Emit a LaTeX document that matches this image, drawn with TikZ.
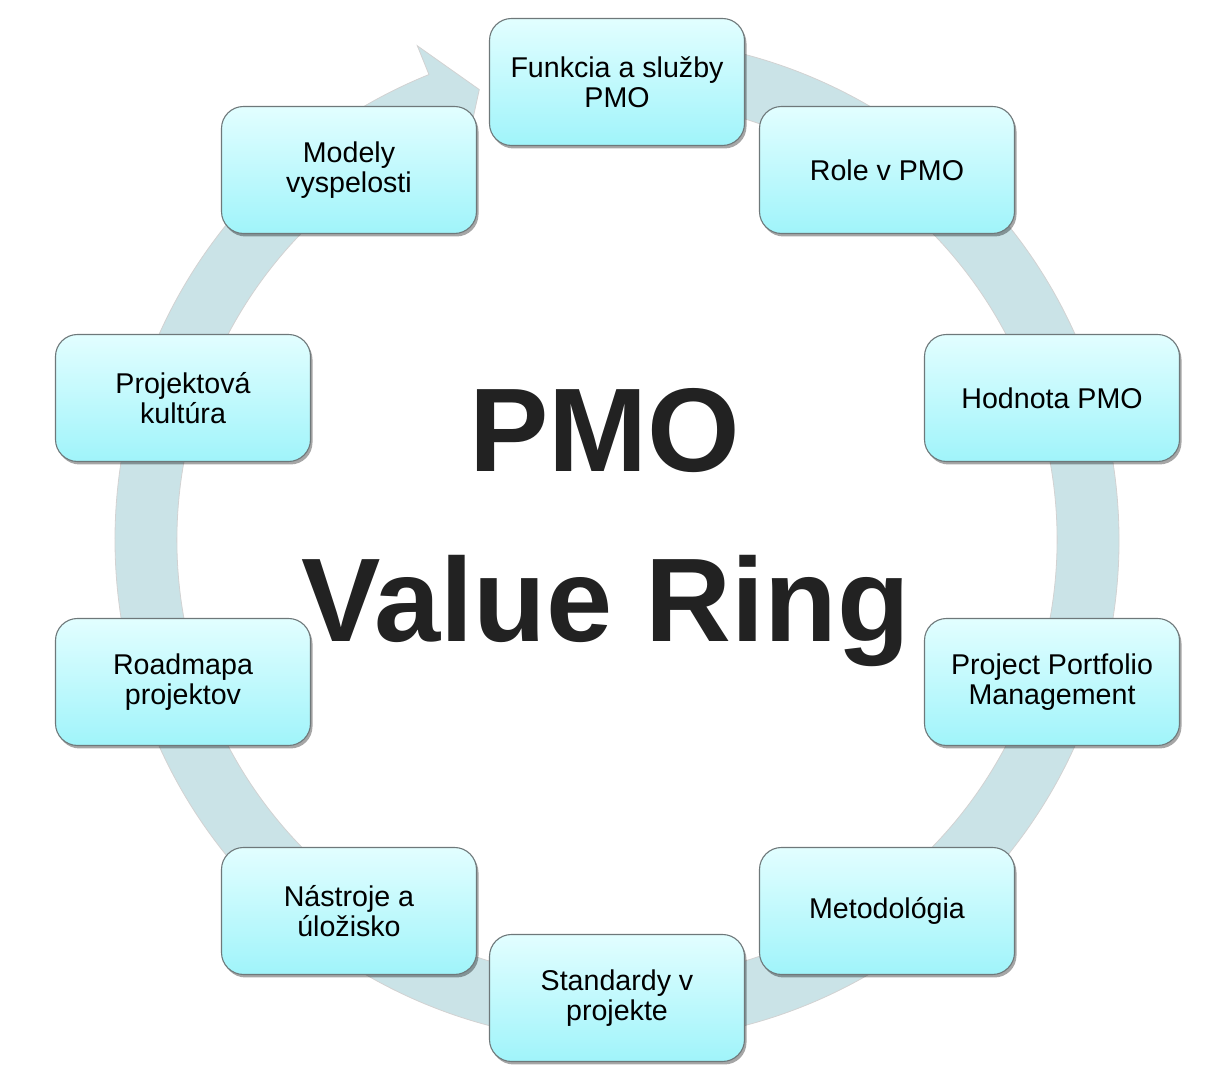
\documentclass[tikz,border=0pt]{standalone}
\usepackage{fontspec}
\setmainfont{Liberation Sans}
\usetikzlibrary{shadows,calc}
\definecolor{ringcol}{RGB}{202,227,231}
\definecolor{boxtop}{RGB}{226,254,255}
\definecolor{boxbot}{RGB}{160,244,250}
\definecolor{boxedge}{RGB}{110,120,122}
\definecolor{titlecol}{RGB}{34,34,34}
\tikzset{
  ringbox/.style={rounded corners=22pt, minimum width=255pt, minimum height=127pt,
    top color=boxtop, bottom color=boxbot, draw=boxedge, line width=1.1pt,
    drop shadow={shadow xshift=2pt, shadow yshift=-3pt, opacity=0.35, fill=black},
    align=center, font=\fontsize{28.6}{30}\selectfont, text=black, inner sep=4pt},
  titletext/.style={font=\fontsize{119}{119}\selectfont\bfseries, text=titlecol, anchor=base, inner sep=0pt}
}
\begin{document}
\begin{tikzpicture}[x=1pt,y=1pt]
\useasboundingbox (0,0) rectangle (1229,1075);
\coordinate (C) at (617,535);
% ring with arrow head
\fill[ringcol, draw=gray!35, line width=0.8pt]
  ($(C)+(95:502)$) arc[start angle=95, end angle=-248, radius=502]
  -- ($(C)+(112:533)$) -- ($(C)+(107:471)$) -- ($(C)+(112:409)$)
  -- ($(C)+(112:440)$) arc[start angle=112, end angle=455, radius=440] -- cycle;
% title
\node[titletext] (t1) at (605,603) {PMO};
\node[titletext] (t2) at (606,433) {Value Ring};
% boxes
\node[ringbox] (b1) at (617,993) {Funkcia a služby\\PMO};
\node[ringbox] (b2) at (887,905) {Role v PMO};
\node[ringbox] (b3) at (1052,677) {Hodnota PMO};
\node[ringbox] (b4) at (1052,393) {Project Portfolio\\Management};
\node[ringbox] (b5) at (887,164) {Metodológia};
\node[ringbox] (b6) at (617,77) {Standardy v\\projekte};
\node[ringbox] (b7) at (349,164) {Nástroje a\\úložisko};
\node[ringbox] (b8) at (183,393) {Roadmapa\\projektov};
\node[ringbox] (b9) at (183,677) {Projektová\\kultúra};
\node[ringbox] (b10) at (349,905) {Modely\\vyspelosti};
\end{tikzpicture}
\end{document}
